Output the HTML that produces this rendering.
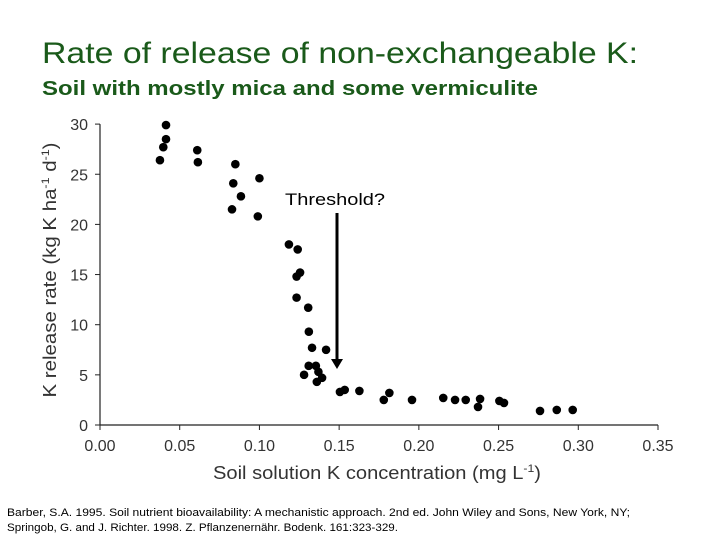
<!DOCTYPE html>
<html><head><meta charset="utf-8"><style>
body{margin:0;background:#fff;width:720px;height:540px;overflow:hidden;font-family:"Liberation Sans",sans-serif}
</style></head><body>
<svg width="720" height="540" xmlns="http://www.w3.org/2000/svg">
<text x="42" y="63" font-size="30" fill="#1a5a1a" textLength="596" lengthAdjust="spacingAndGlyphs">Rate of release of non-exchangeable K:</text>
<text x="42" y="95" font-size="20" font-weight="bold" fill="#1a5a1a" textLength="496" lengthAdjust="spacingAndGlyphs">Soil with mostly mica and some vermiculite</text>
<g id="axes"></g>
<g id="pts"></g>
<text x="285" y="205" font-size="17" fill="#000" textLength="100" lengthAdjust="spacingAndGlyphs">Threshold?</text>
<line x1="337" y1="213" x2="337" y2="360" stroke="#000" stroke-width="3"/>
<polygon points="331,359 343,359 337,369" fill="#000"/>
<text transform="translate(56,270) rotate(-90)" text-anchor="middle" font-size="18" fill="#333" textLength="255" lengthAdjust="spacingAndGlyphs">K release rate (kg K ha<tspan font-size="11" dy="-7">-1</tspan><tspan dy="7"> d</tspan><tspan font-size="11" dy="-7">-1</tspan><tspan dy="7">)</tspan></text>
<text x="377" y="479" text-anchor="middle" font-size="18" fill="#333" textLength="328" lengthAdjust="spacingAndGlyphs">Soil solution K concentration (mg L<tspan font-size="11" dy="-7">-1</tspan><tspan dy="7">)</tspan></text>
<text x="7" y="516" font-size="11" fill="#000" textLength="623" lengthAdjust="spacingAndGlyphs">Barber, S.A. 1995. Soil nutrient bioavailability: A mechanistic approach. 2nd ed. John Wiley and Sons, New York, NY;</text>
<text x="7" y="531" font-size="11" fill="#000" textLength="391" lengthAdjust="spacingAndGlyphs">Springob, G. and J. Richter. 1998. Z. Pflanzenernähr. Bodenk. 161:323-329.</text>
</svg>
<script>
const xTicks=[0,0.05,0.10,0.15,0.20,0.25,0.30,0.35];
const xTickLabels=["0.00","0.05","0.10","0.15","0.20","0.25","0.30","0.35"];
const yTicks=[0,5,10,15,20,25,30];
const xVals=[0.0414,0.0414,0.0397,0.0376,0.061,0.0614,0.0849,0.1,0.0836,0.0884,0.0828,0.099,0.1185,0.124,0.1255,0.1233,0.1233,0.1306,0.131,0.133,0.1418,0.1309,0.1354,0.137,0.128,0.1393,0.136,0.1505,0.1535,0.1627,0.178,0.1815,0.1957,0.2153,0.2227,0.2294,0.2384,0.2371,0.2505,0.2534,0.276,0.2865,0.2965];
const yVals=[29.9,28.5,27.7,26.4,27.4,26.2,26.0,24.6,24.1,22.8,21.5,20.8,18.0,17.5,15.2,14.8,12.7,11.7,9.3,7.7,7.5,5.9,5.9,5.3,5.0,4.7,4.3,3.3,3.5,3.4,2.5,3.2,2.5,2.7,2.5,2.5,2.6,1.8,2.4,2.2,1.4,1.5,1.5];
const NS="http://www.w3.org/2000/svg";
const X=v=>100+v/0.35*558, Y=v=>425-v*10.03;
const ax=document.getElementById('axes'), pts=document.getElementById('pts');
function mk(t,a,p){const e=document.createElementNS(NS,t);for(const k in a)e.setAttribute(k,a[k]);p.appendChild(e);return e;}
let l=mk('line',{x1:100,y1:Y(30),x2:100,y2:425,stroke:'#222','stroke-width':1.2},ax);


l=mk('line',{x1:100,y1:425,x2:X(0.35),y2:425,stroke:'#222','stroke-width':1.2},ax);


yTicks.forEach(v=>{
 const tk=mk('line',{x1:95,y1:Y(v),x2:100,y2:Y(v),stroke:'#222'},ax);
 
 
 const t=mk('text',{x:88,y:Y(v)+6,'text-anchor':'end','font-size':16,fill:'#333'},ax);t.textContent=v;
 
 
});
xTicks.forEach((v,i)=>{
 const tk=mk('line',{x1:X(v),y1:425,x2:X(v),y2:430,stroke:'#222'},ax);
 
 
 const t=mk('text',{x:X(v),y:451,'text-anchor':'middle','font-size':16,fill:'#333'},ax);t.textContent=xTickLabels[i];
 
 
});
xVals.forEach((v,i)=>{
 const c=mk('circle',{cx:X(v),cy:Y(yVals[i]),r:4.3,fill:'#000'},pts);
 
 
});
</script>
</body></html>
